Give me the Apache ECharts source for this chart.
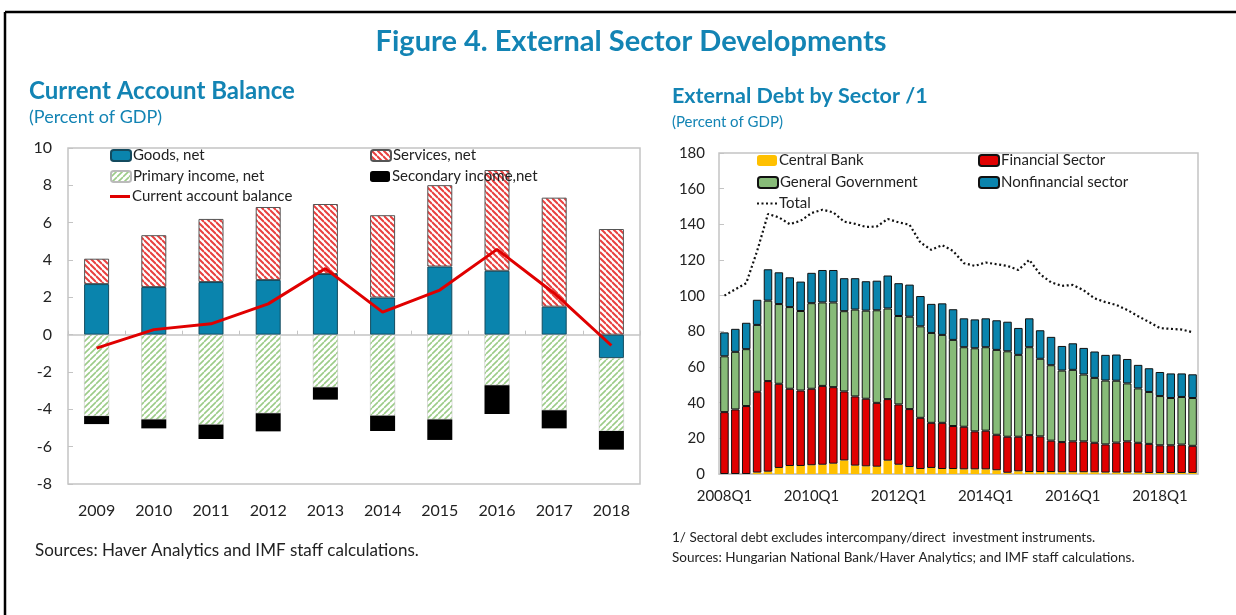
<!DOCTYPE html>
<html>
<head>
<meta charset="utf-8">
<script src="https://cdn.jsdelivr.net/npm/echarts@6/dist/echarts.min.js"></script>
<style>
  html, body { margin: 0; padding: 0; background: #fff; overflow: hidden; }
  #chart { width: 1236px; height: 615px; }
</style>
</head>
<body>
<div id="chart"></div>
<script>
// current account balance (percent of GDP)
var years = ["2009", "2010", "2011", "2012", "2013", "2014", "2015", "2016", "2017", "2018"];
var goods = [2.71, 2.55, 2.82, 2.93, 3.25, 1.99, 3.65, 3.42, 1.50, -1.25];
var services = [1.36, 2.78, 3.38, 3.91, 3.75, 4.41, 4.36, 5.40, 5.84, 5.66];
var primary = [-4.36, -4.54, -4.82, -4.21, -2.82, -4.34, -4.54, -2.71, -4.05, -3.91];
var secondary = [-0.43, -0.48, -0.77, -0.97, -0.66, -0.82, -1.10, -1.54, -0.97, -1.00];
var caBalance = [-0.72, 0.27, 0.58, 1.65, 3.54, 1.21, 2.39, 4.57, 2.22, -0.58];

// external debt by sector (percent of GDP)
var quarters = [
  "2008Q1", "2008Q2", "2008Q3", "2008Q4", "2009Q1", "2009Q2", "2009Q3", "2009Q4",
  "2010Q1", "2010Q2", "2010Q3", "2010Q4", "2011Q1", "2011Q2", "2011Q3", "2011Q4",
  "2012Q1", "2012Q2", "2012Q3", "2012Q4", "2013Q1", "2013Q2", "2013Q3", "2013Q4",
  "2014Q1", "2014Q2", "2014Q3", "2014Q4", "2015Q1", "2015Q2", "2015Q3", "2015Q4",
  "2016Q1", "2016Q2", "2016Q3", "2016Q4", "2017Q1", "2017Q2", "2017Q3", "2017Q4",
  "2018Q1", "2018Q2", "2018Q3", "2018Q4",
];
var centralBank = [
  0, 0, 0, 0.8, 1.3, 3.4, 4.5, 4.5, 4.9, 5.2, 5.8, 7.6, 4.7, 4.3, 4.1, 7.5,
  5.2, 3.9, 2.8, 3.4, 2.8, 2.8, 2.6, 2.6, 2.6, 2.1, 0.7, 1.5, 1.1, 1.1, 1.1, 1.0,
  1.0, 1.0, 1.0, 0.8, 0.8, 0.8, 0.8, 0.6, 0.6, 0.6, 0.6, 0.6,
];
var financial = [
  34.7, 36.2, 38.1, 45.3, 50.8, 47.2, 43.3, 42.3, 42.9, 44.2, 42.9, 38.7, 38.8, 37.9, 35.8, 34.5,
  33.8, 32.5, 28.7, 25.3, 25.9, 24.1, 23.9, 21.3, 21.7, 19.9, 20.2, 19.4, 20.7, 20.0, 17.6, 16.9,
  17.3, 17.3, 16.5, 15.8, 16.8, 17.5, 16.7, 16.3, 15.5, 15.5, 15.9, 15.2,
];
var government = [
  31.3, 32.3, 31.9, 37.5, 45.1, 44.7, 45.8, 44.6, 48.0, 46.8, 47.5, 45.0, 48.7, 49.4, 51.9, 50.8,
  49.6, 51.8, 51.3, 50.4, 49.3, 48.3, 44.6, 46.6, 46.8, 47.6, 47.9, 45.9, 49.3, 43.5, 42.3, 40.1,
  40.1, 37.5, 36.4, 35.8, 34.7, 32.5, 30.5, 29.1, 27.6, 26.5, 26.7, 26.8,
];
var nonfinancial = [
  13.4, 12.9, 14.8, 14.1, 17.6, 17.8, 16.7, 16.5, 17.0, 18.2, 18.2, 18.5, 17.6, 16.5, 16.6, 18.5,
  18.4, 18.0, 17.0, 16.3, 17.7, 17.2, 16.2, 16.2, 16.2, 16.6, 16.6, 15.1, 16.2, 16.0, 15.9, 13.8,
  14.9, 14.9, 14.8, 14.4, 14.7, 13.7, 13.2, 13.3, 13.5, 13.8, 13.2, 13.3,
];
var totalDebt = [
  100, 103.6, 107, 125, 145.8, 143.9, 140.1, 142, 146.3, 148.2, 146.7, 141.5, 140.3, 138.5, 138.8, 143,
  141.1, 139.8, 129.8, 125.7, 128.3, 125.1, 118.2, 116.7, 118.6, 117.6, 116.7, 114.4, 120.1, 112, 107.5, 105.5,
  106, 103, 98.5, 96.4, 94.8, 92, 88.5, 85.2, 81.8, 81.4, 81, 79.5,
];

var FONT = "Lato, 'Liberation Sans', sans-serif";
var TEAL = "#1384b4";
var TXT = "#222";

// legend icons for the two line series
var ICON_SOLID = "path://M0,0h20v3h-20z";
var ICON_DOTS = "path://M0,0h2v2h-2z M4.5,0h2v2h-2z M9,0h2v2h-2z M13.5,0h2v2h-2z M18,0h2v2h-2z";

function makeHatch(color, dir, lw) {
  var s = 6;
  var c = document.createElement("canvas");
  c.width = s;
  c.height = s;
  var ctx = c.getContext("2d");
  ctx.fillStyle = "#fff";
  ctx.fillRect(0, 0, s, s);
  ctx.strokeStyle = color;
  ctx.lineWidth = lw;
  ctx.beginPath();
  for (var k = -1; k <= 2; k++) {
    if (dir === "back") {
      ctx.moveTo(0, k * s);
      ctx.lineTo(s, k * s + s);
    } else {
      ctx.moveTo(0, k * s);
      ctx.lineTo(s, k * s - s);
    }
  }
  ctx.stroke();
  return { image: c, repeat: "repeat" };
}

var servicesFill = makeHatch("#e8403f", "back", 2);
var primaryFill = makeHatch("#9ccc88", "fwd", 1.6);

function legendAt(name, x, y, icon, h) {
  return {
    data: [name],
    left: x,
    top: y - 9,
    padding: 0,
    icon: icon,
    itemWidth: 20,
    itemHeight: h || 11,
    itemGap: 4,
    selectedMode: false,
    textStyle: { fontFamily: FONT, fontSize: 15, color: TXT, padding: [0, 0, 0, -3] },
  };
}

function txt(text, x, y, size, bold, color, align) {
  return {
    type: "text",
    x: x,
    y: y,
    style: {
      text: text,
      font: (bold ? "bold " : "") + size + "px " + FONT,
      fill: color,
      align: align || "left",
      verticalAlign: "middle",
    },
  };
}

var chart = echarts.init(document.getElementById("chart"), null, { renderer: "canvas" });

var option = {
  animation: false,
  backgroundColor: "#fff",
  graphic: [
    // page frame: top and left edges only
    { type: "line", shape: { x1: 5, y1: 12, x2: 1300, y2: 12 }, style: { stroke: "#000", lineWidth: 2.5 } },
    { type: "line", shape: { x1: 5, y1: 12, x2: 5, y2: 640 }, style: { stroke: "#000", lineWidth: 2.5 } },
    txt("Figure 4. External Sector Developments", 631, 42, 29, true, TEAL, "center"),
    txt("Current Account Balance", 29, 91, 24, true, TEAL),
    txt("(Percent of GDP)", 29, 117, 18, false, TEAL),
    txt("External Debt by Sector /1", 672, 96, 21.5, true, TEAL),
    txt("(Percent of GDP)", 672, 122, 15, false, TEAL),
    txt("Sources: Haver Analytics and IMF staff calculations.", 35, 551, 17, false, TXT),
    txt("1/ Sectoral debt excludes intercompany/direct  investment instruments.", 672, 538, 13.5, false, TXT),
    txt("Sources: Hungarian National Bank/Haver Analytics; and IMF staff calculations.", 672, 558, 13.5, false, TXT),
  ],
  legend: [
    legendAt("Goods, net", 110, 157),
    legendAt("Services, net", 370, 157),
    legendAt("Primary income, net", 110, 178),
    legendAt("Secondary income,net", 370, 178),
    legendAt("Current account balance", 110, 198, ICON_SOLID, 3),
    legendAt("Central Bank", 757, 162),
    legendAt("Financial Sector", 978, 162),
    legendAt("General Government", 757, 184),
    legendAt("Nonfinancial sector", 978, 184),
    legendAt("Total", 757, 205, ICON_DOTS, 2),
  ],
  grid: [
    { left: 68, top: 148, width: 572, height: 336, show: true, borderColor: "#c4c4c4", borderWidth: 1.5, backgroundColor: "transparent" },
    { left: 719, top: 153, width: 479, height: 321, show: true, borderColor: "#c4c4c4", borderWidth: 1.5, backgroundColor: "transparent" },
  ],
  xAxis: [
    {
      type: "category",
      gridIndex: 0,
      data: years,
      axisLine: { onZero: true, lineStyle: { color: "#c4c4c4", width: 1.5 } },
      axisTick: { show: true, inside: true, length: 4, lineStyle: { color: "#c4c4c4" } },
      axisLabel: { show: false },
    },
    {
      type: "category",
      gridIndex: 0,
      data: years,
      position: "bottom",
      axisLine: { show: false, onZero: false },
      axisTick: { show: false },
      axisLabel: { margin: 19, fontFamily: FONT, fontSize: 16, color: TXT },
    },
    {
      type: "category",
      gridIndex: 1,
      data: quarters,
      axisLine: { lineStyle: { color: "#c4c4c4", width: 1.5 } },
      axisTick: { show: false },
      axisLabel: { interval: 7, margin: 15, fontFamily: FONT, fontSize: 15, color: TXT },
    },
  ],
  yAxis: [
    {
      type: "value",
      gridIndex: 0,
      min: -8,
      max: 10,
      interval: 2,
      axisLine: { show: false },
      axisTick: { show: true, inside: true, length: 5, lineStyle: { color: "#c4c4c4" } },
      splitLine: { show: false },
      axisLabel: { margin: 16, fontFamily: FONT, fontSize: 16, color: TXT },
    },
    {
      type: "value",
      gridIndex: 1,
      min: 0,
      max: 180,
      interval: 20,
      axisLine: { show: false },
      axisTick: { show: true, inside: true, length: 5, lineStyle: { color: "#c4c4c4" } },
      splitLine: { show: false },
      axisLabel: { margin: 14, fontFamily: FONT, fontSize: 15, color: TXT },
    },
  ],
  series: [
    {
      name: "Goods, net",
      type: "bar",
      stack: "ca",
      xAxisIndex: 0,
      yAxisIndex: 0,
      barWidth: 25,
      data: goods,
      itemStyle: { color: "#0a84ad", borderColor: "#134a5e", borderWidth: 1 },
    },
    {
      name: "Services, net",
      type: "bar",
      stack: "ca",
      xAxisIndex: 0,
      yAxisIndex: 0,
      barWidth: 25,
      data: services,
      itemStyle: { color: servicesFill, borderColor: "#555", borderWidth: 1 },
    },
    {
      name: "Primary income, net",
      type: "bar",
      stack: "ca",
      xAxisIndex: 0,
      yAxisIndex: 0,
      barWidth: 25,
      data: primary,
      itemStyle: { color: primaryFill, borderColor: "#bbb", borderWidth: 0.5 },
    },
    {
      name: "Secondary income,net",
      type: "bar",
      stack: "ca",
      xAxisIndex: 0,
      yAxisIndex: 0,
      barWidth: 25,
      data: secondary,
      itemStyle: { color: "#000" },
    },
    {
      name: "Current account balance",
      type: "line",
      xAxisIndex: 0,
      yAxisIndex: 0,
      data: caBalance,
      symbol: "none",
      z: 5,
      itemStyle: { color: "#e00000" },
      lineStyle: { color: "#e00000", width: 3 },
    },
    {
      name: "Central Bank",
      type: "bar",
      stack: "debt",
      xAxisIndex: 2,
      yAxisIndex: 1,
      barCategoryGap: "22%",
      data: centralBank,
      itemStyle: { color: "#ffc000" },
    },
    {
      name: "Financial Sector",
      type: "bar",
      stack: "debt",
      xAxisIndex: 2,
      yAxisIndex: 1,
      barCategoryGap: "22%",
      data: financial,
      itemStyle: { color: "#e00000", borderColor: "#111", borderWidth: 1 },
    },
    {
      name: "General Government",
      type: "bar",
      stack: "debt",
      xAxisIndex: 2,
      yAxisIndex: 1,
      barCategoryGap: "22%",
      data: government,
      itemStyle: { color: "#87bb78", borderColor: "#111", borderWidth: 1 },
    },
    {
      name: "Nonfinancial sector",
      type: "bar",
      stack: "debt",
      xAxisIndex: 2,
      yAxisIndex: 1,
      barCategoryGap: "22%",
      data: nonfinancial,
      itemStyle: { color: "#0a84ad", borderColor: "#111", borderWidth: 1 },
    },
    {
      name: "Total",
      type: "line",
      xAxisIndex: 2,
      yAxisIndex: 1,
      data: totalDebt,
      symbol: "none",
      z: 5,
      itemStyle: { color: "#111" },
      lineStyle: { color: "#111", width: 2.2, type: [2, 2.6] },
    },
  ],
};

chart.setOption(option);
</script>
</body>
</html>
